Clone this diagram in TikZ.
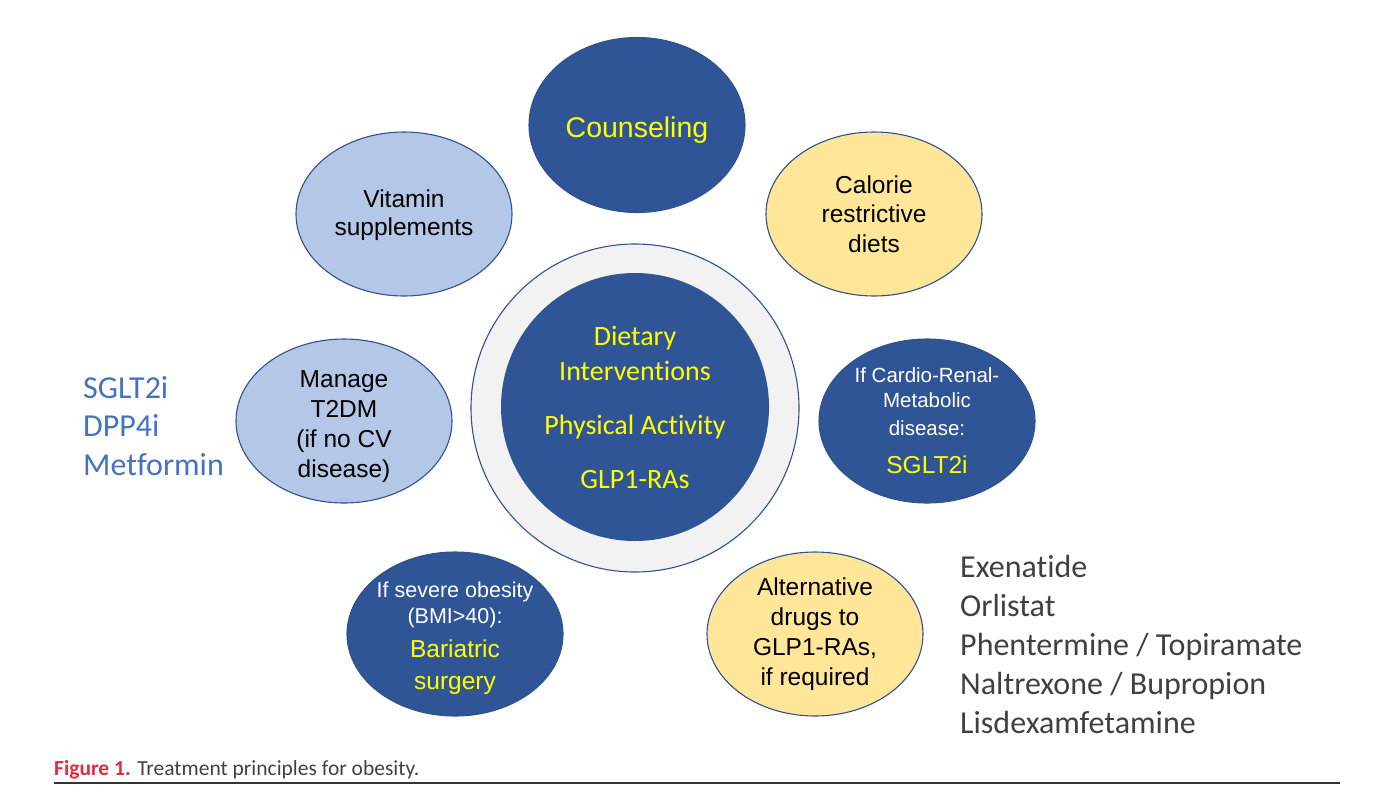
\documentclass[tikz,border=0pt]{standalone}
\usepackage{fontspec}
\setmainfont{Liberation Sans}
\newfontfamily\calfont{Carlito}[Ligatures=NoCommon]
\usetikzlibrary{shapes.geometric}
\definecolor{dblue}{HTML}{2F5597}
\definecolor{edgeblue}{HTML}{2F528F}
\definecolor{lblue}{HTML}{B4C7E7}
\definecolor{lyellow}{HTML}{FFE699}
\definecolor{ringgray}{HTML}{F2F2F2}
\definecolor{ytext}{HTML}{FFFF00}
\definecolor{listblue}{HTML}{4472C4}
\definecolor{listgray}{HTML}{404040}
\definecolor{capred}{HTML}{E02D3C}
\newcommand{\upstrut}[1]{\rule{0pt}{#1}}
\begin{document}
\begin{tikzpicture}[x=1pt,y=-1pt,
  bub/.style={ellipse, draw=edgeblue, line width=1.1pt, minimum width=216pt, minimum height=164pt, inner sep=-10pt, align=center},
  darkbub/.style={bub, fill=dblue, text=white},
  lightbub/.style={bub, fill=lblue, text=black},
  yelbub/.style={bub, fill=lyellow, text=black},
  listtext/.style={anchor=west, inner sep=0pt, align=left},
]
\useasboundingbox (0,0) rectangle (1383,806);

\node[darkbub, minimum height=175pt, text=ytext, font=\fontsize{28.5}{34}\selectfont] (couns) at (637,125) {\upstrut{30pt}Counseling};
\node[yelbub, font=\fontsize{24.5}{29.5}\selectfont] (cal) at (874,214) {Calorie\\restrictive\\diets};
\node[lightbub, font=\fontsize{24.5}{28}\selectfont] (vit) at (404,214) {\upstrut{21pt}Vitamin\\supplements};
\node[lightbub, font=\fontsize{24.5}{30}\selectfont] (t2dm) at (344,421) {\upstrut{28pt}Manage\\T2DM\\(if no CV\\disease)};

\node[circle, draw=edgeblue, fill=ringgray, minimum size=328pt, inner sep=0pt, line width=1.1pt] (ring) at (635,408) {};
\node[circle, fill=dblue, minimum size=268pt, inner sep=-10pt, align=center, text=ytext, font=\calfont\fontsize{28}{35}\selectfont] (core) at (635,407) {Dietary\\Interventions\\[19pt]Physical Activity\\[19pt]GLP1-RAs};

\node[darkbub, font=\fontsize{20.5}{25}\selectfont] (crm) at (927,421) {If Cardio-Renal-\\Metabolic\\[3pt]disease:\\[13pt]{\color{ytext}\fontsize{24.5}{25}\selectfont SGLT2i}};
\node[darkbub, font=\fontsize{21.5}{26}\selectfont] (bar) at (455,634) {\upstrut{24pt}If severe obesity\\(BMI>40):\\[8pt]{\color{ytext}\fontsize{24.5}{26}\selectfont Bariatric}\\[6pt]{\color{ytext}\fontsize{24.5}{26}\selectfont surgery}};
\node[yelbub, font=\fontsize{24.5}{30}\selectfont] (alt) at (815,634) {Alternative\\drugs to\\GLP1-RAs,\\if required};

\node[listtext, text=listblue, font=\calfont\fontsize{32}{38.5}\selectfont] (t2list) at (83,426) {SGLT2i\\DPP4i\\Metformin};
\node[listtext, text=listgray, font=\calfont\fontsize{32}{39}\selectfont] (altlist) at (960,644) {Exenatide\\Orlistat\\Phentermine / Topiramate\\Naltrexone / Bupropion\\Lisdexamfetamine};

\node[anchor=base west, inner sep=0pt, text=listgray, font=\calfont\fontsize{21.5}{24}\selectfont] (cap) at (54,775) {\textcolor{capred}{\bfseries Figure 1.} Treatment principles for obesity.};
\coordinate (rl) at (54,783);
\coordinate (rr) at (1340,783);
\draw[line width=1.3pt, draw=black!80] (rl) -- (rr);
\end{tikzpicture}
\end{document}
